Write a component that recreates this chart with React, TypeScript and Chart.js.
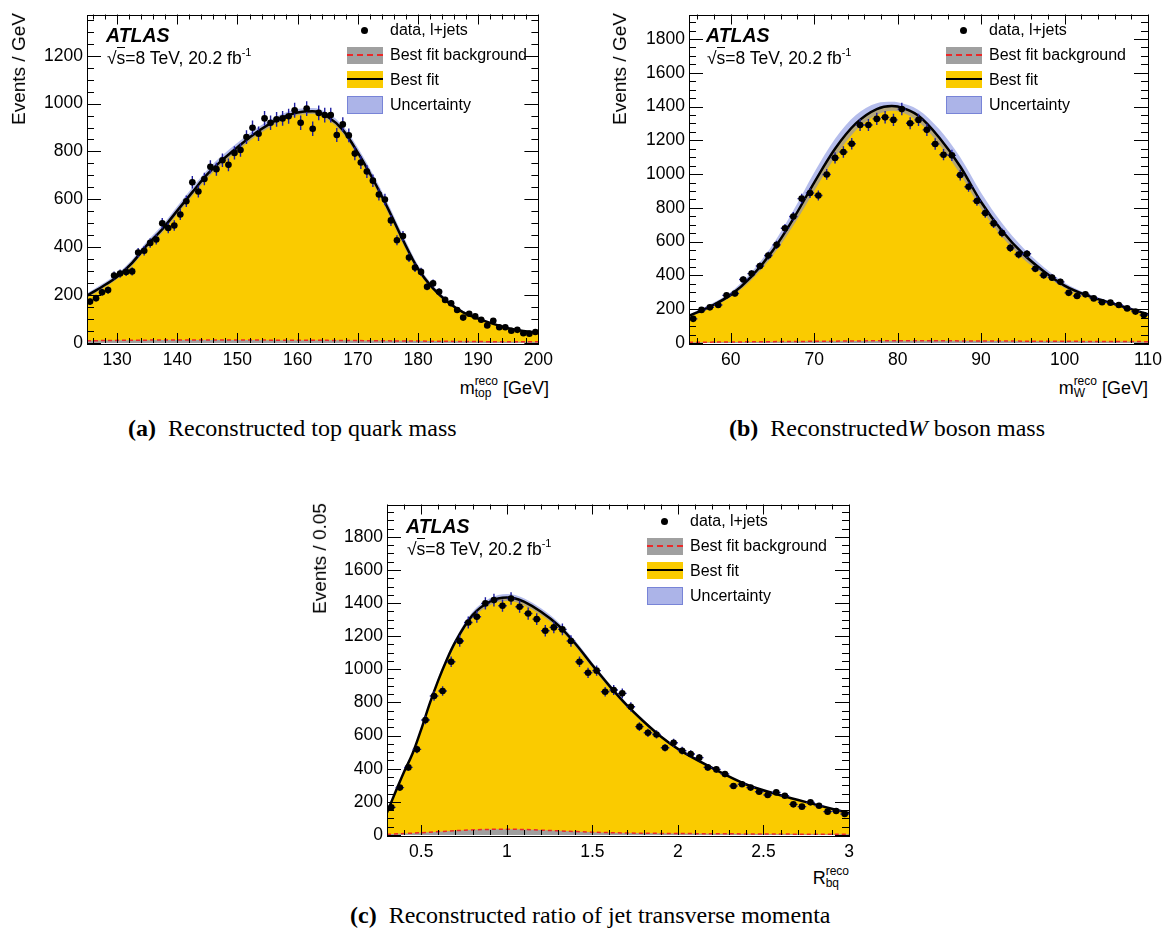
import React, { useEffect, useRef } from "react";
import { Chart, registerables } from "chart.js";
Chart.register(...registerables);

// ---------- Panel (a): reconstructed top quark mass ----------
const topBinX = [125.5,126.5,127.5,128.5,129.5,130.5,131.5,132.5,133.5,134.5,135.5,136.5,137.5,138.5,139.5,140.5,141.5,142.5,143.5,144.5,145.5,146.5,147.5,148.5,149.5,150.5,151.5,152.5,153.5,154.5,155.5,156.5,157.5,158.5,159.5,160.5,161.5,162.5,163.5,164.5,165.5,166.5,167.5,168.5,169.5,170.5,171.5,172.5,173.5,174.5,175.5,176.5,177.5,178.5,179.5,180.5,181.5,182.5,183.5,184.5,185.5,186.5,187.5,188.5,189.5,190.5,191.5,192.5,193.5,194.5,195.5,196.5,197.5,198.5,199.5];
const topData = [173,187,212,221,282,290,297,299,378,385,418,432,500,480,491,537,592,671,633,685,736,726,763,744,794,806,860,899,874,938,920,934,938,947,972,920,979,895,961,952,952,869,913,867,791,754,716,678,620,599,512,429,447,357,315,297,235,249,214,180,166,138,106,122,111,97,73,93,66,66,51,55,41,39,46];
const topErr = [13,14,15,15,17,17,17,17,19,20,20,21,22,22,22,23,24,26,25,26,27,27,28,27,28,28,29,30,30,31,30,31,31,31,31,30,31,30,31,31,31,29,30,29,28,27,27,26,25,24,23,21,21,19,18,17,15,16,15,13,13,12,10,11,11,10,9,10,8,8,7,7,6,6,7];
const topFitX = [125,127.5,130,132.5,135,137.5,140,142.5,145,147.5,150,152.5,155,157.5,160,162.5,165,167.5,170,172.5,175,177.5,180,182.5,185,187.5,190,192.5,195,197.5,200];
const topFit = [198,235,277,335,410,475,553,630,705,765,818,868,910,942,963,968,945,890,795,685,562,430,310,228,170,128,102,80,62,50,42];
const topBandUp = [208,246,289,349,426,492,571,649,724,784,836,885,926,957,977,982,961,908,815,706,583,450,326,240,179,135,107,84,65,53,44];
const topBandDown = [190,226,267,323,396,461,538,614,689,749,802,853,896,929,951,956,932,875,778,667,544,414,298,219,163,123,98,77,60,48,40];
const topBgX = [125,130,135,140,145,150,155,160,165,170,175,180,185,190,195,200];
const topBg = [9,11,12,13,13,13,12,12,11,10,9,8,7,6,5,5];
const topXTicks = [130,140,150,160,170,180,190,200];
const topYTicks = [0,200,400,600,800,1000,1200];

// ---------- Panel (b): reconstructed W boson mass ----------
const wBinX = [55.5,56.5,57.5,58.5,59.5,60.5,61.5,62.5,63.5,64.5,65.5,66.5,67.5,68.5,69.5,70.5,71.5,72.5,73.5,74.5,75.5,76.5,77.5,78.5,79.5,80.5,81.5,82.5,83.5,84.5,85.5,86.5,87.5,88.5,89.5,90.5,91.5,92.5,93.5,94.5,95.5,96.5,97.5,98.5,99.5,100.5,101.5,102.5,103.5,104.5,105.5,106.5,107.5,108.5,109.5];
const wData = [143,196,211,225,282,293,376,411,456,518,581,679,749,855,888,873,998,1096,1131,1180,1291,1291,1327,1336,1321,1385,1301,1321,1262,1178,1115,1111,994,925,841,769,708,652,563,524,528,440,401,387,362,297,278,288,264,241,239,225,205,186,166];
const wErr = [12,14,15,15,17,17,19,20,21,23,24,26,27,29,30,30,32,33,34,34,36,36,36,37,36,37,36,36,36,34,33,33,32,30,29,28,27,26,24,23,23,21,20,20,19,17,17,17,16,16,15,15,14,14,13];
const wFitX = [55,57.5,60,62.5,65,67.5,70,72.5,75,77.5,79.3,80,82.5,85,87.5,90,92.5,95,97.5,100,102.5,105,107.5,110];
const wFit = [160,215,285,395,545,735,950,1150,1300,1385,1403,1400,1345,1215,1045,835,665,530,425,340,285,245,208,170];
const wBandUp = [170,228,302,420,580,785,1010,1210,1350,1420,1428,1425,1380,1265,1100,890,710,565,450,357,297,254,215,176];
const wBandDown = [152,205,272,375,515,695,900,1100,1260,1350,1375,1372,1310,1175,1000,795,630,500,405,325,275,237,202,165];
const wBgX = [55,60,65,70,75,80,85,90,95,100,105,110];
const wBg = [4,6,8,10,12,14,13,12,11,10,9,8];
const wXTicks = [60,70,80,90,100,110];
const wYTicks = [0,200,400,600,800,1000,1200,1400,1600,1800];

// ---------- Panel (c): ratio of jet transverse momenta ----------
const rBinX = [0.325,0.375,0.425,0.475,0.525,0.575,0.625,0.675,0.725,0.775,0.825,0.875,0.925,0.975,1.025,1.075,1.125,1.175,1.225,1.275,1.325,1.375,1.425,1.475,1.525,1.575,1.625,1.675,1.725,1.775,1.825,1.875,1.925,1.975,2.025,2.075,2.125,2.175,2.225,2.275,2.325,2.375,2.425,2.475,2.525,2.575,2.625,2.675,2.725,2.775,2.825,2.875,2.925,2.975];
const rData = [167,286,408,517,694,839,869,1046,1171,1283,1317,1398,1418,1384,1428,1378,1337,1303,1233,1253,1241,1171,1046,979,992,865,875,855,774,654,617,607,527,557,509,489,467,408,396,368,296,306,286,261,241,257,237,185,171,197,177,141,145,127];
const rErr = [13,17,20,23,26,29,29,32,34,36,36,37,38,37,38,37,37,36,35,35,35,34,32,31,31,29,30,29,28,26,25,25,23,24,23,22,22,20,20,19,17,17,17,16,16,16,15,14,13,14,13,12,12,11];
const rFitX = [0.3,0.35,0.4,0.45,0.5,0.55,0.6,0.65,0.7,0.8,0.9,1.0,1.05,1.1,1.2,1.3,1.4,1.5,1.6,1.7,1.8,1.9,2.0,2.2,2.4,2.6,2.8,3.0];
const rFit = [135,261,382,493,638,794,935,1060,1167,1327,1408,1434,1428,1408,1348,1267,1156,1026,900,785,685,595,520,405,305,240,185,132];
const rBandUp = [138,266,389,502,649,807,950,1077,1185,1347,1429,1455,1449,1429,1368,1286,1174,1042,914,797,696,604,528,411,310,244,188,134];
const rBandDown = [132,256,375,484,627,781,920,1043,1149,1307,1387,1413,1407,1387,1328,1248,1138,1010,886,773,674,586,512,399,300,236,182,130];
const rBgX = [0.3,0.5,0.7,0.9,1.0,1.1,1.3,1.5,1.7,2.0,2.5,3.0];
const rBg = [4,14,26,34,35,33,25,17,12,9,6,4];
const rXTicks = [0.5,1,1.5,2,2.5,3];
const rYTicks = [0,200,400,600,800,1000,1200,1400,1600,1800];

// ---------- styles ----------
const SANS = '"Liberation Sans", Arial, Helvetica, sans-serif';
const SERIF = '"Liberation Serif", "Times New Roman", serif';
const YELLOW = "rgb(250,203,0)";
const BAND = "rgba(120,135,220,0.55)";
const GRAY = "rgb(160,160,160)";
const RED = "rgb(235,40,40)";
const ERRC = "rgb(30,30,160)";

type Panel = {
  left: number; top: number; w: number; h: number;
  padTop: number; padRight: number; yW: number; xH: number;
  xMin: number; xMax: number; yMax: number;
  xTicks: number[]; yTicks: number[];
  xMajor: number; xMinor: number; yMajor: number; yMinor: number;
  half: number;
  binX: number[]; data: number[]; err: number[];
  fitX: number[]; fit: number[]; up: number[]; down: number[];
  bgX: number[]; bg: number[];
};

const pts = (xs: number[], ys: number[]) => xs.map((x, i) => ({ x, y: ys[i] }));

const frameTicks = {
  id: "frameTicks",
  afterDatasetsDraw(chart: any, _args: any, opts: any) {
    const { ctx, chartArea: a, scales } = chart;
    const x = scales.x, y = scales.y;
    ctx.save();
    ctx.strokeStyle = "#000";
    ctx.lineWidth = 1;
    ctx.beginPath();
    const near = (v: number, m: number) => Math.abs(v / m - Math.round(v / m)) < 1e-6;
    const xMaj = 10, xMin = 5, yMaj = 14, yMin = 7;
    for (let k = Math.ceil(x.min / opts.xMinor - 1e-6); k * opts.xMinor <= x.max + 1e-9; k++) {
      const v = k * opts.xMinor;
      const px = Math.round(x.getPixelForValue(v)) + 0.5;
      const L = near(v, opts.xMajor) ? xMaj : xMin;
      ctx.moveTo(px, a.bottom); ctx.lineTo(px, a.bottom - L);
      ctx.moveTo(px, a.top); ctx.lineTo(px, a.top + L);
    }
    for (let k = 0; k * opts.yMinor <= y.max + 1e-9; k++) {
      const v = k * opts.yMinor;
      const py = Math.round(y.getPixelForValue(v)) + 0.5;
      const L = near(v, opts.yMajor) ? yMaj : yMin;
      ctx.moveTo(a.left, py); ctx.lineTo(a.left + L, py);
      ctx.moveTo(a.right, py); ctx.lineTo(a.right - L, py);
    }
    ctx.stroke();
    ctx.strokeRect(Math.round(a.left) + 0.5, Math.round(a.top) + 0.5, Math.round(a.right - a.left), Math.round(a.bottom - a.top));
    ctx.restore();
  },
};

const errorBars = {
  id: "errorBars",
  beforeDatasetDraw(chart: any, args: any, opts: any) {
    const ds = chart.data.datasets[args.index];
    if (ds.label !== "data") return;
    const { ctx, chartArea: a, scales } = chart;
    const x = scales.x, y = scales.y;
    ctx.save();
    ctx.beginPath();
    ctx.rect(a.left, a.top, a.right - a.left, a.bottom - a.top);
    ctx.clip();
    ctx.strokeStyle = ERRC;
    ctx.lineWidth = 1.4;
    ctx.beginPath();
    ds.data.forEach((p: any, i: number) => {
      const e = opts.err[i];
      const px = x.getPixelForValue(p.x);
      const py = y.getPixelForValue(p.y);
      ctx.moveTo(px, y.getPixelForValue(p.y - e));
      ctx.lineTo(px, y.getPixelForValue(p.y + e));
      ctx.moveTo(x.getPixelForValue(p.x - opts.half), py);
      ctx.lineTo(x.getPixelForValue(p.x + opts.half), py);
    });
    ctx.stroke();
    ctx.restore();
  },
};

function ChartPanel({ p }: { p: Panel }) {
  const ref = useRef<HTMLCanvasElement>(null);
  useEffect(() => {
    const line = { pointRadius: 0, cubicInterpolationMode: "monotone" as const };
    const chart = new Chart(ref.current!, {
      type: "line",
      data: {
        datasets: [
          { label: "yellow", data: pts(p.fitX, p.fit), backgroundColor: YELLOW, borderWidth: 0, fill: "origin", order: 6, ...line },
          { label: "bandUp", data: pts(p.fitX, p.up), backgroundColor: BAND, borderWidth: 0, fill: "+1", order: 5, ...line },
          { label: "bandDown", data: pts(p.fitX, p.down), borderWidth: 0, fill: false, order: 4, ...line },
          { label: "bg", data: pts(p.bgX, p.bg), backgroundColor: GRAY, borderColor: RED, borderDash: [4, 3], borderWidth: 1.5, fill: "origin", order: 3, ...line },
          { label: "fit", data: pts(p.fitX, p.fit), borderColor: "#000", borderWidth: 2.5, fill: false, order: 2, ...line },
          { label: "data", data: pts(p.binX, p.data), showLine: false, pointRadius: 3.3, pointBackgroundColor: "#000", pointBorderWidth: 0, order: 1 },
        ] as any,
      },
      options: {
        animation: false,
        responsive: false,
        events: [],
        layout: { padding: { top: p.padTop, right: p.padRight, left: 0, bottom: 0 } },
        plugins: {
          legend: { display: false },
          tooltip: { enabled: false },
          frameTicks: { xMajor: p.xMajor, xMinor: p.xMinor, yMajor: p.yMajor, yMinor: p.yMinor },
          errorBars: { err: p.err, half: p.half },
        } as any,
        scales: {
          x: {
            type: "linear",
            min: p.xMin,
            max: p.xMax,
            grid: { display: false, drawTicks: false },
            border: { display: false },
            ticks: { font: { family: SANS, size: 17.5 }, color: "#000", padding: 7, maxRotation: 0, autoSkip: false, callback: (v: any) => String(v) },
            afterBuildTicks: (s: any) => { s.ticks = p.xTicks.map((v) => ({ value: v })); },
            afterFit: (s: any) => { s.height = p.xH; },
          },
          y: {
            type: "linear",
            min: 0,
            max: p.yMax,
            grid: { display: false, drawTicks: false },
            border: { display: false },
            ticks: { font: { family: SANS, size: 17.5 }, color: "#000", padding: 4, autoSkip: false, callback: (v: any) => String(v) },
            afterBuildTicks: (s: any) => { s.ticks = p.yTicks.map((v) => ({ value: v })); },
            afterFit: (s: any) => { s.width = p.yW; },
          },
        },
      },
      plugins: [frameTicks as any, errorBars as any],
    });
    return () => chart.destroy();
  }, []);
  return (
    <canvas ref={ref} width={p.w} height={p.h}
      style={{ position: "absolute", left: p.left, top: p.top, width: p.w, height: p.h }} />
  );
}

const panels: Panel[] = [
  { left: 0, top: 0, w: 560, h: 370, padTop: 12, padRight: 11, yW: 87, xH: 27, xMin: 125, xMax: 200, yMax: 1372,
    xTicks: topXTicks, yTicks: topYTicks, xMajor: 10, xMinor: 2, yMajor: 200, yMinor: 50, half: 0.5,
    binX: topBinX, data: topData, err: topErr, fitX: topFitX, fit: topFit, up: topBandUp, down: topBandDown, bgX: topBgX, bg: topBg },
  { left: 590, top: 0, w: 579, h: 370, padTop: 12, padRight: 21, yW: 99, xH: 27, xMin: 55, xMax: 110, yMax: 1945,
    xTicks: wXTicks, yTicks: wYTicks, xMajor: 10, xMinor: 2, yMajor: 200, yMinor: 50, half: 0.5,
    binX: wBinX, data: wData, err: wErr, fitX: wFitX, fit: wFit, up: wBandUp, down: wBandDown, bgX: wBgX, bg: wBg },
  { left: 300, top: 490, w: 570, h: 370, padTop: 14, padRight: 21, yW: 87, xH: 25, xMin: 0.3, xMax: 3, yMax: 1995,
    xTicks: rXTicks, yTicks: rYTicks, xMajor: 0.5, xMinor: 0.1, yMajor: 200, yMinor: 50, half: 0.025,
    binX: rBinX, data: rData, err: rErr, fitX: rFitX, fit: rFit, up: rBandUp, down: rBandDown, bgX: rBgX, bg: rBg },
];

const abs = (s: React.CSSProperties): React.CSSProperties => ({ position: "absolute", ...s });

function YTitle({ cx, top, text }: { cx: number; top: number; text: string }) {
  return (
    <div style={abs({ left: cx, top, width: 0, height: 0 })}>
      <div style={abs({ right: 0, top: -11, height: 22, lineHeight: "22px", whiteSpace: "nowrap", fontFamily: SANS, fontSize: 19,
        transformOrigin: "100% 50%", transform: "rotate(-90deg)" })}>{text}</div>
    </div>
  );
}

function Legend({ ox, oy, atlasX }: { ox: number; oy: number; atlasX: number }) {
  const txt = (cy: number, s: string) => (
    <div style={abs({ left: ox + 390, top: oy + cy - 10, height: 20, lineHeight: "20px", fontFamily: SANS, fontSize: 16, whiteSpace: "nowrap" })}>{s}</div>
  );
  return (
    <>
      <div style={abs({ left: atlasX, top: oy + 35 - 12, height: 24, lineHeight: "24px", fontFamily: SANS, fontSize: 19.5, fontWeight: "bold", fontStyle: "italic" })}>ATLAS</div>
      <div style={abs({ left: atlasX + 1, top: oy + 58 - 12, height: 24, lineHeight: "24px", fontFamily: SANS, fontSize: 17.5, whiteSpace: "nowrap" })}>
        √<span style={{ borderTop: "1px solid #000", paddingTop: 0 }}>s</span>=8 TeV, 20.2 fb
        <span style={{ fontSize: 11, position: "relative", top: -8 }}>-1</span>
      </div>
      <div style={abs({ left: ox + 364 - 3.5, top: oy + 30 - 3.5, width: 7, height: 7, borderRadius: "50%", background: "#000" })} />
      {txt(30, "data, l+jets")}
      <div style={abs({ left: ox + 347, top: oy + 47, width: 36, height: 17, background: GRAY })}>
        <div style={abs({ left: 0, top: 7, width: 36, height: 0, borderTop: `2px dashed ${RED}` })} />
      </div>
      {txt(55, "Best fit background")}
      <div style={abs({ left: ox + 347, top: oy + 71, width: 36, height: 17, background: YELLOW })}>
        <div style={abs({ left: 0, top: 7, width: 36, height: 2, background: "#000" })} />
      </div>
      {txt(80, "Best fit")}
      <div style={abs({ left: ox + 347, top: oy + 96, width: 34, height: 16, background: "rgb(172,180,232)", border: "1px solid rgb(120,132,215)" })} />
      {txt(105, "Uncertainty")}
    </>
  );
}

function XTitle({ right, cy, main, sup, sub, unit }: { right: number; cy: number; main: string; sup: string; sub: string; unit: string }) {
  return (
    <div style={abs({ left: right - 300, width: 300, top: cy - 13, height: 26, lineHeight: "26px", textAlign: "right", fontFamily: SANS, fontSize: 18, whiteSpace: "nowrap" })}>
      {main}
      <span style={{ display: "inline-block", verticalAlign: "-3px", lineHeight: "12px", fontSize: 12, textAlign: "left" }}>
        <span style={{ display: "block" }}>{sup}</span>
        <span style={{ display: "block" }}>{sub}</span>
      </span>
      {unit}
    </div>
  );
}

function Caption({ left, cy, tag, children }: { left: number; cy: number; tag: string; children: React.ReactNode }) {
  return (
    <div style={abs({ left, top: cy - 15, height: 30, lineHeight: "30px", fontFamily: SERIF, fontSize: 24, whiteSpace: "nowrap" })}>
      <b>{tag}</b>&nbsp;&nbsp;{children}
    </div>
  );
}

export default function App() {
  return (
    <div style={abs({ left: 0, top: 0, width: 1169, height: 929, background: "#fff", overflow: "hidden" })}>
      {panels.map((p, i) => <ChartPanel key={i} p={p} />)}
      <YTitle cx={18.5} top={13} text="Events / GeV" />
      <YTitle cx={620} top={13} text="Events / GeV" />
      <YTitle cx={320} top={503} text="Events / 0.05" />
      <Legend ox={0} oy={0} atlasX={106} />
      <Legend ox={599} oy={0} atlasX={706} />
      <Legend ox={300} oy={491} atlasX={406} />
      <XTitle right={549} cy={388} main="m" sup="reco" sub="top" unit=" [GeV]" />
      <XTitle right={1148} cy={388} main="m" sup="reco" sub="W" unit=" [GeV]" />
      <XTitle right={849} cy={878} main="R" sup="reco" sub="bq" unit="" />
      <Caption left={128} cy={428} tag="(a)">Reconstructed top quark mass</Caption>
      <Caption left={729} cy={428} tag="(b)">Reconstructed<i>W</i> boson mass</Caption>
      <Caption left={350} cy={915} tag="(c)">Reconstructed ratio of jet transverse momenta</Caption>
    </div>
  );
}
